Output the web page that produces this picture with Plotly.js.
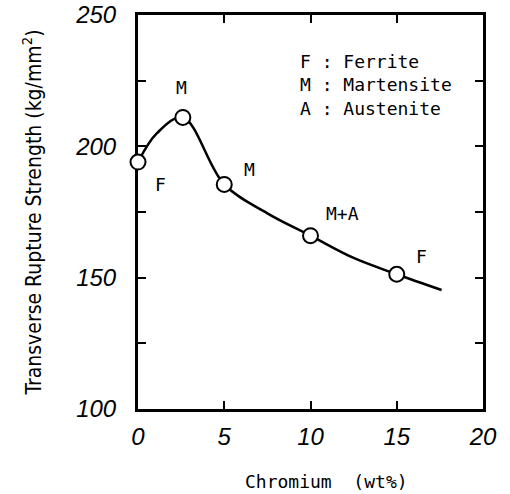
<!DOCTYPE html>
<html><head><meta charset="utf-8">
<script src="https://cdn.plot.ly/plotly-3.0.1.min.js"></script>
<style>html,body{margin:0;padding:0;background:#fff}#c{width:510px;height:494px}</style>
</head><body><div id="c"></div>
<script>
// Measured points
const chromium = [0, 2.6, 5, 10, 15];
const strength = [194, 211, 185.5, 166, 151.3];
const phases = ["F", "M", "M", "M+A", "F"];
// Fitted curve drawn through the points
const curveX = [0, 1.1, 2.6, 5, 7.5, 10, 12.5, 15, 17.6];
const curveY = [194, 205, 211, 185.5, 174.5, 166, 157.5, 151.3, 145.3];
const xTickVals = [0, 5, 10, 15, 20];
const xTickText = ["0", "5", "10", "15", "20"];
const yTickVals = [100, 150, 200, 250];
const yTickText = ["100", "150", "200", "250"];
const legendLines = ["F : Ferrite", "M : Martensite", "A : Austenite"];

const mono = "DejaVu Sans Mono, monospace";
const labelOffsets = [[22, -22], [-1, 30], [25, 15], [32, 22], [25, 18]];

const traces = [
  {x: curveX, y: curveY, mode: "lines", line: {color: "#000", width: 2.5, shape: "spline", smoothing: 1}, hoverinfo: "skip", showlegend: false},
  {x: chromium, y: strength, mode: "markers", marker: {symbol: "circle", size: 15, color: "#fff", line: {color: "#000", width: 2}}, cliponaxis: false, showlegend: false}
];

const annotations = phases.map((p, i) => ({
  x: chromium[i], y: strength[i], xref: "x", yref: "y", text: p, showarrow: false,
  xshift: labelOffsets[i][0], yshift: labelOffsets[i][1],
  font: {family: mono, size: 18, color: "#000"}
}));
const L = 138, R = 27, T = 15, B = 85, W = 510, H = 494;
const PW = W - L - R, PH = H - T - B;
legendLines.forEach((t, i) => annotations.push({
  x: (298 - L) / PW, y: 1 - (62 + i * 23 - T) / PH, xref: "paper", yref: "paper", text: t, showarrow: false,
  xanchor: "left", yanchor: "middle",
  font: {family: mono, size: 18, color: "#000"}
}));
annotations.push({
  x: (326 - L) / PW, y: -(481 - (H - B)) / PH, xref: "paper", yref: "paper",
  text: "Chromium  (wt%)", showarrow: false, xanchor: "center", yanchor: "middle",
  font: {family: mono, size: 18, color: "#000"}
});

const axisCommon = {
  showline: true, linecolor: "#000", linewidth: 3, mirror: "ticks",
  ticks: "inside", ticklen: 8, tickwidth: 2, tickcolor: "#000",
  showgrid: false, zeroline: false, layer: "below traces",
  tickfont: {family: "Liberation Sans, Arial, sans-serif", size: 24, color: "#000", style: "italic"}
};

const layout = {
  width: W, height: H,
  margin: {l: L, r: R, t: T, b: B},
  paper_bgcolor: "#fff", plot_bgcolor: "#fff",
  showlegend: false,
  xaxis: Object.assign({}, axisCommon, {range: [0, 20], tickmode: "array", tickvals: xTickVals, ticktext: xTickText, ticklabelstandoff: 4}),
  yaxis: Object.assign({}, axisCommon, {range: [100, 250], tickmode: "array", tickvals: yTickVals, ticktext: yTickText, ticklabelstandoff: 14,
    minor: {dtick: 25, ticks: "inside", ticklen: 8, tickwidth: 2, tickcolor: "#000", showgrid: false},
    title: {text: "Transverse Rupture Strength (kg/mm<sup>2</sup>)", standoff: 28, font: {family: "DejaVu Sans Condensed, DejaVu Sans, sans-serif", size: 21, color: "#000"}}}),
  annotations: annotations
};

Plotly.newPlot("c", traces, layout, {displayModeBar: false, staticPlot: true});
</script></body></html>
